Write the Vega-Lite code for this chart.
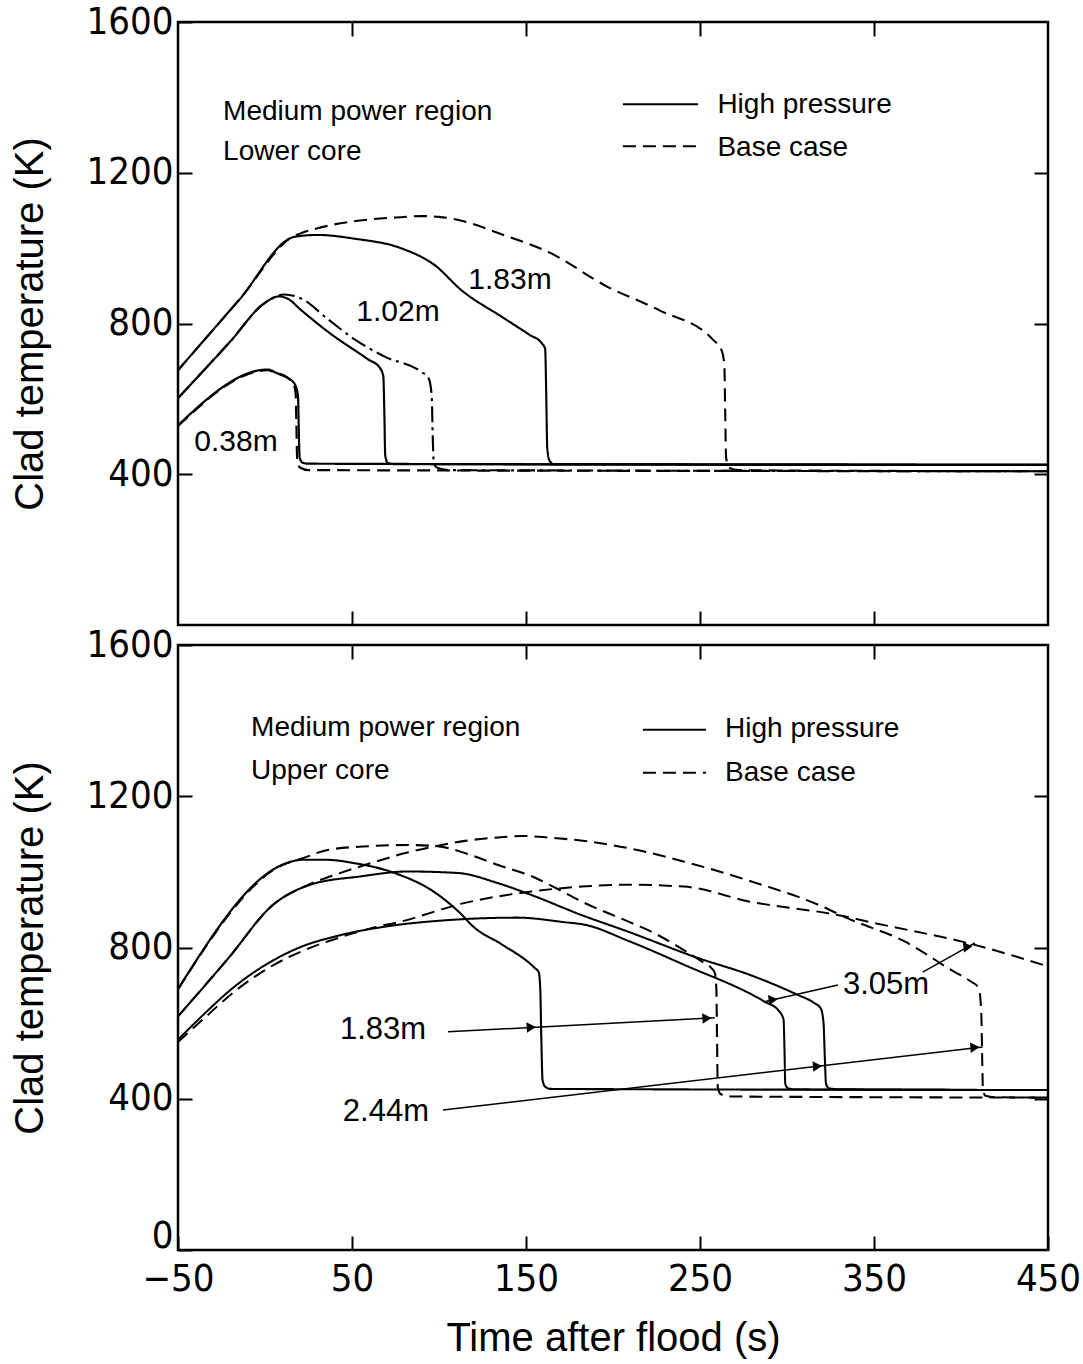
{
  "$schema": "https://vega.github.io/schema/vega-lite/v6.json",
  "background": "white",
  "padding": {"left": 8, "top": 1, "right": 0, "bottom": 2},
  "bounds": "flush",
  "config": {
    "view": {"stroke": "black", "strokeWidth": 2.5},
    "concat": {"spacing": 20},
    "font": "Liberation Sans",
    "axis": {"grid": false, "domain": false, "ticks": true, "tickColor": "black", "tickWidth": 2, "tickSize": -14, "minExtent": 0,
      "labelFont": "DejaVu Sans Condensed, Liberation Sans Narrow, Liberation Sans", "labelFontSize": 38, "labelColor": "black",
      "labelFlush": false, "labelBound": false, "labelOverlap": false, "labelPadding": 19, "format": "d",
      "titleFont": "Liberation Sans", "titleFontSize": 40, "titleFontWeight": "normal", "titleColor": "black"},
    "text": {"font": "Liberation Sans", "color": "black"}
  },
  "datasets": {
    "curves": [
      {"panel": "Lower core", "series": "1.83 m high pressure", "t": -50, "T": 676},
      {"panel": "Lower core", "series": "1.83 m high pressure", "t": -15, "T": 862},
      {"panel": "Lower core", "series": "1.83 m high pressure", "t": 17, "T": 1030},
      {"panel": "Lower core", "series": "1.83 m high pressure", "t": 30, "T": 1035},
      {"panel": "Lower core", "series": "1.83 m high pressure", "t": 51.5, "T": 1025},
      {"panel": "Lower core", "series": "1.83 m high pressure", "t": 78, "T": 1000},
      {"panel": "Lower core", "series": "1.83 m high pressure", "t": 97.5, "T": 955},
      {"panel": "Lower core", "series": "1.83 m high pressure", "t": 113, "T": 888},
      {"panel": "Lower core", "series": "1.83 m high pressure", "t": 136, "T": 818},
      {"panel": "Lower core", "series": "1.83 m high pressure", "t": 152, "T": 770},
      {"panel": "Lower core", "series": "1.83 m high pressure", "t": 159, "T": 748},
      {"panel": "Lower core", "series": "1.83 m high pressure", "t": 161, "T": 733},
      {"panel": "Lower core", "series": "1.83 m high pressure", "t": 161.6, "T": 620},
      {"panel": "Lower core", "series": "1.83 m high pressure", "t": 162.2, "T": 470},
      {"panel": "Lower core", "series": "1.83 m high pressure", "t": 163.5, "T": 436},
      {"panel": "Lower core", "series": "1.83 m high pressure", "t": 166, "T": 427},
      {"panel": "Lower core", "series": "1.83 m high pressure", "t": 250, "T": 426},
      {"panel": "Lower core", "series": "1.83 m high pressure", "t": 450, "T": 425},

      {"panel": "Lower core", "series": "1.83 m base case", "t": -50, "T": 676},
      {"panel": "Lower core", "series": "1.83 m base case", "t": -15, "T": 862},
      {"panel": "Lower core", "series": "1.83 m base case", "t": 17, "T": 1033},
      {"panel": "Lower core", "series": "1.83 m base case", "t": 21, "T": 1040},
      {"panel": "Lower core", "series": "1.83 m base case", "t": 40, "T": 1063},
      {"panel": "Lower core", "series": "1.83 m base case", "t": 60, "T": 1076},
      {"panel": "Lower core", "series": "1.83 m base case", "t": 78, "T": 1082},
      {"panel": "Lower core", "series": "1.83 m base case", "t": 90, "T": 1085},
      {"panel": "Lower core", "series": "1.83 m base case", "t": 100, "T": 1083},
      {"panel": "Lower core", "series": "1.83 m base case", "t": 116.7, "T": 1068},
      {"panel": "Lower core", "series": "1.83 m base case", "t": 134, "T": 1040},
      {"panel": "Lower core", "series": "1.83 m base case", "t": 164.5, "T": 986},
      {"panel": "Lower core", "series": "1.83 m base case", "t": 195.8, "T": 900},
      {"panel": "Lower core", "series": "1.83 m base case", "t": 226.7, "T": 835},
      {"panel": "Lower core", "series": "1.83 m base case", "t": 257.7, "T": 756},
      {"panel": "Lower core", "series": "1.83 m base case", "t": 262.5, "T": 728},
      {"panel": "Lower core", "series": "1.83 m base case", "t": 264, "T": 690},
      {"panel": "Lower core", "series": "1.83 m base case", "t": 264.5, "T": 560},
      {"panel": "Lower core", "series": "1.83 m base case", "t": 265, "T": 445},
      {"panel": "Lower core", "series": "1.83 m base case", "t": 266.5, "T": 418},
      {"panel": "Lower core", "series": "1.83 m base case", "t": 272, "T": 411},
      {"panel": "Lower core", "series": "1.83 m base case", "t": 350, "T": 409},
      {"panel": "Lower core", "series": "1.83 m base case", "t": 450, "T": 408},

      {"panel": "Lower core", "series": "1.02 m high pressure", "t": -50, "T": 602},
      {"panel": "Lower core", "series": "1.02 m high pressure", "t": -20, "T": 752},
      {"panel": "Lower core", "series": "1.02 m high pressure", "t": 0, "T": 855},
      {"panel": "Lower core", "series": "1.02 m high pressure", "t": 8, "T": 872},
      {"panel": "Lower core", "series": "1.02 m high pressure", "t": 13, "T": 866},
      {"panel": "Lower core", "series": "1.02 m high pressure", "t": 20.9, "T": 835},
      {"panel": "Lower core", "series": "1.02 m high pressure", "t": 36.2, "T": 778},
      {"panel": "Lower core", "series": "1.02 m high pressure", "t": 59.2, "T": 705},
      {"panel": "Lower core", "series": "1.02 m high pressure", "t": 65.9, "T": 683},
      {"panel": "Lower core", "series": "1.02 m high pressure", "t": 68, "T": 660},
      {"panel": "Lower core", "series": "1.02 m high pressure", "t": 68.6, "T": 560},
      {"panel": "Lower core", "series": "1.02 m high pressure", "t": 69.1, "T": 450},
      {"panel": "Lower core", "series": "1.02 m high pressure", "t": 70.5, "T": 430},
      {"panel": "Lower core", "series": "1.02 m high pressure", "t": 74, "T": 427},
      {"panel": "Lower core", "series": "1.02 m high pressure", "t": 450, "T": 425},

      {"panel": "Lower core", "series": "1.02 m base case", "t": -50, "T": 602},
      {"panel": "Lower core", "series": "1.02 m base case", "t": -20, "T": 752},
      {"panel": "Lower core", "series": "1.02 m base case", "t": 0, "T": 855},
      {"panel": "Lower core", "series": "1.02 m base case", "t": 11, "T": 877},
      {"panel": "Lower core", "series": "1.02 m base case", "t": 20.9, "T": 866},
      {"panel": "Lower core", "series": "1.02 m base case", "t": 36, "T": 812},
      {"panel": "Lower core", "series": "1.02 m base case", "t": 51.5, "T": 758},
      {"panel": "Lower core", "series": "1.02 m base case", "t": 68.8, "T": 712},
      {"panel": "Lower core", "series": "1.02 m base case", "t": 89.7, "T": 672},
      {"panel": "Lower core", "series": "1.02 m base case", "t": 94, "T": 655},
      {"panel": "Lower core", "series": "1.02 m base case", "t": 95.8, "T": 610},
      {"panel": "Lower core", "series": "1.02 m base case", "t": 96.4, "T": 500},
      {"panel": "Lower core", "series": "1.02 m base case", "t": 97, "T": 430},
      {"panel": "Lower core", "series": "1.02 m base case", "t": 99, "T": 417},
      {"panel": "Lower core", "series": "1.02 m base case", "t": 106, "T": 411},
      {"panel": "Lower core", "series": "1.02 m base case", "t": 450, "T": 408},

      {"panel": "Lower core", "series": "0.38 m high pressure", "t": -50, "T": 530},
      {"panel": "Lower core", "series": "0.38 m high pressure", "t": 1.7, "T": 678},
      {"panel": "Lower core", "series": "0.38 m high pressure", "t": 6, "T": 670},
      {"panel": "Lower core", "series": "0.38 m high pressure", "t": 9, "T": 664},
      {"panel": "Lower core", "series": "0.38 m high pressure", "t": 12, "T": 658},
      {"panel": "Lower core", "series": "0.38 m high pressure", "t": 15, "T": 650},
      {"panel": "Lower core", "series": "0.38 m high pressure", "t": 17.8, "T": 632},
      {"panel": "Lower core", "series": "0.38 m high pressure", "t": 19, "T": 605},
      {"panel": "Lower core", "series": "0.38 m high pressure", "t": 19.4, "T": 520},
      {"panel": "Lower core", "series": "0.38 m high pressure", "t": 19.9, "T": 445},
      {"panel": "Lower core", "series": "0.38 m high pressure", "t": 21.5, "T": 431},
      {"panel": "Lower core", "series": "0.38 m high pressure", "t": 25, "T": 428},
      {"panel": "Lower core", "series": "0.38 m high pressure", "t": 450, "T": 425},

      {"panel": "Lower core", "series": "0.38 m base case", "t": -50, "T": 528},
      {"panel": "Lower core", "series": "0.38 m base case", "t": 1.7, "T": 676},
      {"panel": "Lower core", "series": "0.38 m base case", "t": 5, "T": 671},
      {"panel": "Lower core", "series": "0.38 m base case", "t": 8, "T": 667},
      {"panel": "Lower core", "series": "0.38 m base case", "t": 11, "T": 662},
      {"panel": "Lower core", "series": "0.38 m base case", "t": 14, "T": 652},
      {"panel": "Lower core", "series": "0.38 m base case", "t": 16.5, "T": 638},
      {"panel": "Lower core", "series": "0.38 m base case", "t": 17.6, "T": 615},
      {"panel": "Lower core", "series": "0.38 m base case", "t": 18, "T": 540},
      {"panel": "Lower core", "series": "0.38 m base case", "t": 18.5, "T": 440},
      {"panel": "Lower core", "series": "0.38 m base case", "t": 20, "T": 418},
      {"panel": "Lower core", "series": "0.38 m base case", "t": 25, "T": 411},
      {"panel": "Lower core", "series": "0.38 m base case", "t": 450, "T": 408},

      {"panel": "Upper core", "series": "1.83 m high pressure", "t": -50, "T": 690},
      {"panel": "Upper core", "series": "1.83 m high pressure", "t": 10.2, "T": 1019},
      {"panel": "Upper core", "series": "1.83 m high pressure", "t": 21.6, "T": 1032},
      {"panel": "Upper core", "series": "1.83 m high pressure", "t": 35, "T": 1032},
      {"panel": "Upper core", "series": "1.83 m high pressure", "t": 51.5, "T": 1023},
      {"panel": "Upper core", "series": "1.83 m high pressure", "t": 74.5, "T": 997},
      {"panel": "Upper core", "series": "1.83 m high pressure", "t": 97.5, "T": 946},
      {"panel": "Upper core", "series": "1.83 m high pressure", "t": 111, "T": 896},
      {"panel": "Upper core", "series": "1.83 m high pressure", "t": 120.5, "T": 852},
      {"panel": "Upper core", "series": "1.83 m high pressure", "t": 135.8, "T": 809},
      {"panel": "Upper core", "series": "1.83 m high pressure", "t": 155, "T": 746},
      {"panel": "Upper core", "series": "1.83 m high pressure", "t": 157.3, "T": 735},
      {"panel": "Upper core", "series": "1.83 m high pressure", "t": 158.2, "T": 690},
      {"panel": "Upper core", "series": "1.83 m high pressure", "t": 158.8, "T": 560},
      {"panel": "Upper core", "series": "1.83 m high pressure", "t": 159.5, "T": 450},
      {"panel": "Upper core", "series": "1.83 m high pressure", "t": 161, "T": 432},
      {"panel": "Upper core", "series": "1.83 m high pressure", "t": 164, "T": 426},
      {"panel": "Upper core", "series": "1.83 m high pressure", "t": 450, "T": 423},

      {"panel": "Upper core", "series": "1.83 m base case", "t": -50, "T": 690},
      {"panel": "Upper core", "series": "1.83 m base case", "t": 10.2, "T": 1019},
      {"panel": "Upper core", "series": "1.83 m base case", "t": 21.6, "T": 1036},
      {"panel": "Upper core", "series": "1.83 m base case", "t": 36, "T": 1058},
      {"panel": "Upper core", "series": "1.83 m base case", "t": 60, "T": 1068},
      {"panel": "Upper core", "series": "1.83 m base case", "t": 82, "T": 1071},
      {"panel": "Upper core", "series": "1.83 m base case", "t": 99, "T": 1068},
      {"panel": "Upper core", "series": "1.83 m base case", "t": 116, "T": 1048},
      {"panel": "Upper core", "series": "1.83 m base case", "t": 134, "T": 1018},
      {"panel": "Upper core", "series": "1.83 m base case", "t": 155, "T": 985},
      {"panel": "Upper core", "series": "1.83 m base case", "t": 162.6, "T": 968},
      {"panel": "Upper core", "series": "1.83 m base case", "t": 185, "T": 915},
      {"panel": "Upper core", "series": "1.83 m base case", "t": 208.6, "T": 869},
      {"panel": "Upper core", "series": "1.83 m base case", "t": 222, "T": 842},
      {"panel": "Upper core", "series": "1.83 m base case", "t": 240, "T": 795},
      {"panel": "Upper core", "series": "1.83 m base case", "t": 251, "T": 763},
      {"panel": "Upper core", "series": "1.83 m base case", "t": 256, "T": 748},
      {"panel": "Upper core", "series": "1.83 m base case", "t": 258.5, "T": 733},
      {"panel": "Upper core", "series": "1.83 m base case", "t": 259.4, "T": 690},
      {"panel": "Upper core", "series": "1.83 m base case", "t": 259.8, "T": 560},
      {"panel": "Upper core", "series": "1.83 m base case", "t": 260.2, "T": 430},
      {"panel": "Upper core", "series": "1.83 m base case", "t": 262, "T": 412},
      {"panel": "Upper core", "series": "1.83 m base case", "t": 268, "T": 406},
      {"panel": "Upper core", "series": "1.83 m base case", "t": 450, "T": 403},

      {"panel": "Upper core", "series": "2.44 m high pressure", "t": -50, "T": 618},
      {"panel": "Upper core", "series": "2.44 m high pressure", "t": -21, "T": 772},
      {"panel": "Upper core", "series": "2.44 m high pressure", "t": 4.4, "T": 912},
      {"panel": "Upper core", "series": "2.44 m high pressure", "t": 26, "T": 966},
      {"panel": "Upper core", "series": "2.44 m high pressure", "t": 54.8, "T": 988},
      {"panel": "Upper core", "series": "2.44 m high pressure", "t": 82, "T": 1001},
      {"panel": "Upper core", "series": "2.44 m high pressure", "t": 110.9, "T": 997},
      {"panel": "Upper core", "series": "2.44 m high pressure", "t": 134, "T": 970},
      {"panel": "Upper core", "series": "2.44 m high pressure", "t": 153, "T": 939},
      {"panel": "Upper core", "series": "2.44 m high pressure", "t": 181.8, "T": 886},
      {"panel": "Upper core", "series": "2.44 m high pressure", "t": 208.6, "T": 842},
      {"panel": "Upper core", "series": "2.44 m high pressure", "t": 249, "T": 772},
      {"panel": "Upper core", "series": "2.44 m high pressure", "t": 279, "T": 727},
      {"panel": "Upper core", "series": "2.44 m high pressure", "t": 306, "T": 675},
      {"panel": "Upper core", "series": "2.44 m high pressure", "t": 315, "T": 655},
      {"panel": "Upper core", "series": "2.44 m high pressure", "t": 319.5, "T": 638},
      {"panel": "Upper core", "series": "2.44 m high pressure", "t": 321, "T": 600},
      {"panel": "Upper core", "series": "2.44 m high pressure", "t": 321.8, "T": 500},
      {"panel": "Upper core", "series": "2.44 m high pressure", "t": 322.4, "T": 440},
      {"panel": "Upper core", "series": "2.44 m high pressure", "t": 324, "T": 428},
      {"panel": "Upper core", "series": "2.44 m high pressure", "t": 330, "T": 425},
      {"panel": "Upper core", "series": "2.44 m high pressure", "t": 450, "T": 423},

      {"panel": "Upper core", "series": "2.44 m base case", "t": -50, "T": 618},
      {"panel": "Upper core", "series": "2.44 m base case", "t": -21, "T": 772},
      {"panel": "Upper core", "series": "2.44 m base case", "t": 4.4, "T": 912},
      {"panel": "Upper core", "series": "2.44 m base case", "t": 26, "T": 968},
      {"panel": "Upper core", "series": "2.44 m base case", "t": 42.7, "T": 996},
      {"panel": "Upper core", "series": "2.44 m base case", "t": 60, "T": 1022},
      {"panel": "Upper core", "series": "2.44 m base case", "t": 80, "T": 1049},
      {"panel": "Upper core", "series": "2.44 m base case", "t": 99.4, "T": 1069},
      {"panel": "Upper core", "series": "2.44 m base case", "t": 115, "T": 1082},
      {"panel": "Upper core", "series": "2.44 m base case", "t": 134, "T": 1091},
      {"panel": "Upper core", "series": "2.44 m base case", "t": 148, "T": 1095},
      {"panel": "Upper core", "series": "2.44 m base case", "t": 162.6, "T": 1091},
      {"panel": "Upper core", "series": "2.44 m base case", "t": 191, "T": 1077},
      {"panel": "Upper core", "series": "2.44 m base case", "t": 208.6, "T": 1063},
      {"panel": "Upper core", "series": "2.44 m base case", "t": 241, "T": 1027},
      {"panel": "Upper core", "series": "2.44 m base case", "t": 280, "T": 974},
      {"panel": "Upper core", "series": "2.44 m base case", "t": 318, "T": 913},
      {"panel": "Upper core", "series": "2.44 m base case", "t": 335, "T": 877},
      {"panel": "Upper core", "series": "2.44 m base case", "t": 367.6, "T": 816},
      {"panel": "Upper core", "series": "2.44 m base case", "t": 396, "T": 736},
      {"panel": "Upper core", "series": "2.44 m base case", "t": 405, "T": 712},
      {"panel": "Upper core", "series": "2.44 m base case", "t": 410.3, "T": 692},
      {"panel": "Upper core", "series": "2.44 m base case", "t": 411.7, "T": 620},
      {"panel": "Upper core", "series": "2.44 m base case", "t": 412.2, "T": 500},
      {"panel": "Upper core", "series": "2.44 m base case", "t": 412.6, "T": 425},
      {"panel": "Upper core", "series": "2.44 m base case", "t": 414, "T": 408},
      {"panel": "Upper core", "series": "2.44 m base case", "t": 420, "T": 404},
      {"panel": "Upper core", "series": "2.44 m base case", "t": 450, "T": 403},

      {"panel": "Upper core", "series": "3.05 m high pressure", "t": -50, "T": 556},
      {"panel": "Upper core", "series": "3.05 m high pressure", "t": -36.6, "T": 617},
      {"panel": "Upper core", "series": "3.05 m high pressure", "t": -17.4, "T": 697},
      {"panel": "Upper core", "series": "3.05 m high pressure", "t": 1.7, "T": 758},
      {"panel": "Upper core", "series": "3.05 m high pressure", "t": 20.9, "T": 802},
      {"panel": "Upper core", "series": "3.05 m high pressure", "t": 40, "T": 829},
      {"panel": "Upper core", "series": "3.05 m high pressure", "t": 68.8, "T": 855},
      {"panel": "Upper core", "series": "3.05 m high pressure", "t": 107, "T": 873},
      {"panel": "Upper core", "series": "3.05 m high pressure", "t": 145, "T": 879},
      {"panel": "Upper core", "series": "3.05 m high pressure", "t": 172, "T": 867},
      {"panel": "Upper core", "series": "3.05 m high pressure", "t": 184, "T": 860},
      {"panel": "Upper core", "series": "3.05 m high pressure", "t": 208.6, "T": 818},
      {"panel": "Upper core", "series": "3.05 m high pressure", "t": 241, "T": 754},
      {"panel": "Upper core", "series": "3.05 m high pressure", "t": 287, "T": 657},
      {"panel": "Upper core", "series": "3.05 m high pressure", "t": 295, "T": 634},
      {"panel": "Upper core", "series": "3.05 m high pressure", "t": 298, "T": 610},
      {"panel": "Upper core", "series": "3.05 m high pressure", "t": 298.6, "T": 520},
      {"panel": "Upper core", "series": "3.05 m high pressure", "t": 299, "T": 440},
      {"panel": "Upper core", "series": "3.05 m high pressure", "t": 300.5, "T": 428},
      {"panel": "Upper core", "series": "3.05 m high pressure", "t": 304, "T": 425},
      {"panel": "Upper core", "series": "3.05 m high pressure", "t": 450, "T": 423},

      {"panel": "Upper core", "series": "3.05 m base case", "t": -50, "T": 550},
      {"panel": "Upper core", "series": "3.05 m base case", "t": -36.6, "T": 606},
      {"panel": "Upper core", "series": "3.05 m base case", "t": -17.4, "T": 684},
      {"panel": "Upper core", "series": "3.05 m base case", "t": 1.7, "T": 745},
      {"panel": "Upper core", "series": "3.05 m base case", "t": 25.3, "T": 798},
      {"panel": "Upper core", "series": "3.05 m base case", "t": 40, "T": 822},
      {"panel": "Upper core", "series": "3.05 m base case", "t": 60, "T": 850},
      {"panel": "Upper core", "series": "3.05 m base case", "t": 77.6, "T": 868},
      {"panel": "Upper core", "series": "3.05 m base case", "t": 115, "T": 918},
      {"panel": "Upper core", "series": "3.05 m base case", "t": 153, "T": 948},
      {"panel": "Upper core", "series": "3.05 m base case", "t": 182, "T": 961},
      {"panel": "Upper core", "series": "3.05 m base case", "t": 208.6, "T": 966},
      {"panel": "Upper core", "series": "3.05 m base case", "t": 241, "T": 961},
      {"panel": "Upper core", "series": "3.05 m base case", "t": 279, "T": 921},
      {"panel": "Upper core", "series": "3.05 m base case", "t": 329, "T": 886},
      {"panel": "Upper core", "series": "3.05 m base case", "t": 350, "T": 865},
      {"panel": "Upper core", "series": "3.05 m base case", "t": 408, "T": 807},
      {"panel": "Upper core", "series": "3.05 m base case", "t": 450, "T": 750}
    ],
    "tags": [
      {"panel": "Lower core", "text": "1.83m", "t": 140.8, "T": 915},
      {"panel": "Lower core", "text": "1.02m", "t": 76.4, "T": 830},
      {"panel": "Lower core", "text": "0.38m", "t": -16.7, "T": 485},
      {"panel": "Upper core", "text": "1.83m", "t": 67.8, "T": 582},
      {"panel": "Upper core", "text": "2.44m", "t": 69.5, "T": 365},
      {"panel": "Upper core", "text": "3.05m", "t": 356.9, "T": 701}
    ],
    "notes": [
      {"panel": "Lower core", "text": "Medium power region", "t": -24.1, "T": 1361},
      {"panel": "Lower core", "text": "Lower core", "t": -24.1, "T": 1255},
      {"panel": "Lower core", "text": "High pressure", "t": 260, "T": 1380},
      {"panel": "Lower core", "text": "Base case", "t": 260, "T": 1266},
      {"panel": "Upper core", "text": "Medium power region", "t": -8, "T": 1381},
      {"panel": "Upper core", "text": "Upper core", "t": -8, "T": 1268},
      {"panel": "Upper core", "text": "High pressure", "t": 264.4, "T": 1378},
      {"panel": "Upper core", "text": "Base case", "t": 264.4, "T": 1262}
    ],
    "keys": [
      {"panel": "Lower core", "case": "High pressure", "t": 205.7, "t2": 248.9, "T": 1382},
      {"panel": "Lower core", "case": "Base case", "t": 205.7, "t2": 248.9, "T": 1270},
      {"panel": "Upper core", "case": "High pressure", "t": 217.2, "t2": 253.4, "T": 1376},
      {"panel": "Upper core", "case": "Base case", "t": 217.2, "t2": 253.4, "T": 1262}
    ],
    "arrows": [
      {"label": "1.83 m", "t": 105.2, "T": 577, "t2": 258.5, "T2": 614},
      {"label": "2.44 m", "t": 102.3, "T": 370, "t2": 412.5, "T2": 537},
      {"label": "3.05 m high pressure", "t": 329.3, "T": 701, "t2": 287.5, "T2": 657},
      {"label": "3.05 m base case", "t": 378, "T": 735, "t2": 408, "T2": 812}
    ],
    "heads": [
      {"arrow": "1.83 m", "t": 153, "T": 589},
      {"arrow": "1.83 m", "t": 254, "T": 613},
      {"arrow": "2.44 m", "t": 317.5, "T": 486},
      {"arrow": "2.44 m", "t": 408, "T": 536},
      {"arrow": "3.05 m high pressure", "t": 292, "T": 662},
      {"arrow": "3.05 m base case", "t": 404, "T": 802}
    ]
  },
  "vconcat": [
    {
      "width": 870,
      "height": 603,
      "resolve": {"axis": {"x": "independent", "y": "independent"}},
      "layer": [
        {
          "data": {"name": "curves"},
          "transform": [{"filter": "datum.panel === 'Lower core'"}],
          "mark": {"type": "line", "interpolate": "monotone", "color": "black"},
          "encoding": {
            "x": {"field": "t", "type": "quantitative", "scale": {"domain": [-50, 450], "nice": false, "zero": false},
              "axis": {"values": [50, 150, 250, 350], "labels": false, "title": null}},
            "y": {"field": "T", "type": "quantitative", "scale": {"domain": [0, 1600], "nice": false},
              "axis": {"values": [400, 800, 1200, 1600], "title": "Clad temperature (K)", "titlePadding": 36}},
            "detail": {"field": "series", "type": "nominal"},
            "strokeDash": {"field": "series", "type": "nominal", "legend": null,
              "scale": {"domain": ["0.38 m high pressure", "0.38 m base case", "1.02 m high pressure", "1.02 m base case", "1.83 m high pressure", "1.83 m base case", "2.44 m high pressure", "2.44 m base case", "3.05 m high pressure", "3.05 m base case"],
                "range": [[1, 0], [13, 7], [1, 0], [16, 5, 3, 5], [1, 0], [13, 7], [1, 0], [13, 7], [1, 0], [13, 7]]}},
            "strokeWidth": {"field": "series", "type": "nominal", "legend": null,
              "scale": {"domain": ["0.38 m high pressure", "0.38 m base case", "1.02 m high pressure", "1.02 m base case", "1.83 m high pressure", "1.83 m base case", "2.44 m high pressure", "2.44 m base case", "3.05 m high pressure", "3.05 m base case"],
                "range": [2.2, 2, 2.2, 1.6, 2.2, 2, 3.8, 2, 2.2, 2]}}
          }
        },
        {
          "data": {"name": "curves"},
          "transform": [{"filter": "datum.panel === 'Lower core'"}],
          "mark": {"type": "point", "opacity": 0},
          "encoding": {
            "x": {"field": "t", "type": "quantitative", "axis": {"orient": "top", "values": [50, 150, 250, 350], "labels": false, "title": null}},
            "y": {"field": "T", "type": "quantitative", "axis": {"orient": "right", "values": [400, 800, 1200], "labels": false, "title": null}}
          }
        },
        {
          "data": {"name": "tags"},
          "transform": [{"filter": "datum.panel === 'Lower core'"}],
          "mark": {"type": "text", "fontSize": 30, "align": "center", "baseline": "middle"},
          "encoding": {
            "x": {"field": "t", "type": "quantitative", "axis": null},
            "y": {"field": "T", "type": "quantitative", "axis": null},
            "text": {"field": "text"}
          }
        },
        {
          "data": {"name": "notes"},
          "transform": [{"filter": "datum.panel === 'Lower core'"}],
          "mark": {"type": "text", "fontSize": 28, "align": "left", "baseline": "middle"},
          "encoding": {
            "x": {"field": "t", "type": "quantitative", "axis": null},
            "y": {"field": "T", "type": "quantitative", "axis": null},
            "text": {"field": "text"}
          }
        },
        {
          "data": {"name": "keys"},
          "transform": [{"filter": "datum.panel === 'Lower core' && datum.case === 'High pressure'"}],
          "mark": {"type": "rule", "color": "black", "strokeWidth": 2},
          "encoding": {
            "x": {"field": "t", "type": "quantitative", "axis": null},
            "x2": {"field": "t2"},
            "y": {"field": "T", "type": "quantitative", "axis": null}
          }
        },
        {
          "data": {"name": "keys"},
          "transform": [{"filter": "datum.panel === 'Lower core' && datum.case === 'Base case'"}],
          "mark": {"type": "rule", "color": "black", "strokeWidth": 2, "strokeDash": [13, 7]},
          "encoding": {
            "x": {"field": "t", "type": "quantitative", "axis": null},
            "x2": {"field": "t2"},
            "y": {"field": "T", "type": "quantitative", "axis": null}
          }
        }
      ]
    },
    {
      "width": 870,
      "height": 605,
      "resolve": {"axis": {"x": "independent", "y": "independent"}},
      "layer": [
        {
          "data": {"name": "curves"},
          "transform": [{"filter": "datum.panel === 'Upper core'"}],
          "mark": {"type": "line", "interpolate": "monotone", "color": "black"},
          "encoding": {
            "x": {"field": "t", "type": "quantitative", "scale": {"domain": [-50, 450], "nice": false, "zero": false},
              "axis": {"values": [-50, 50, 150, 250, 350, 450], "title": "Time after flood (s)", "labelPadding": 24, "titlePadding": 20}},
            "y": {"field": "T", "type": "quantitative", "scale": {"domain": [0, 1600], "nice": false},
              "axis": {"values": [0, 400, 800, 1200, 1600], "title": "Clad temperature (K)", "titlePadding": 36,
                "labelOffset": {"condition": {"test": "datum.value === 0", "value": -14}, "value": 0}}},
            "detail": {"field": "series", "type": "nominal"},
            "strokeDash": {"field": "series", "type": "nominal", "legend": null,
              "scale": {"domain": ["0.38 m high pressure", "0.38 m base case", "1.02 m high pressure", "1.02 m base case", "1.83 m high pressure", "1.83 m base case", "2.44 m high pressure", "2.44 m base case", "3.05 m high pressure", "3.05 m base case"],
                "range": [[1, 0], [13, 7], [1, 0], [16, 5, 3, 5], [1, 0], [13, 7], [1, 0], [13, 7], [1, 0], [13, 7]]}},
            "strokeWidth": {"field": "series", "type": "nominal", "legend": null,
              "scale": {"domain": ["0.38 m high pressure", "0.38 m base case", "1.02 m high pressure", "1.02 m base case", "1.83 m high pressure", "1.83 m base case", "2.44 m high pressure", "2.44 m base case", "3.05 m high pressure", "3.05 m base case"],
                "range": [2.2, 2, 2.2, 1.6, 2.2, 2, 3.8, 2, 2.2, 2]}}
          }
        },
        {
          "data": {"name": "curves"},
          "transform": [{"filter": "datum.panel === 'Upper core'"}],
          "mark": {"type": "point", "opacity": 0},
          "encoding": {
            "x": {"field": "t", "type": "quantitative", "axis": {"orient": "top", "values": [50, 150, 250, 350], "labels": false, "title": null}},
            "y": {"field": "T", "type": "quantitative", "axis": {"orient": "right", "values": [400, 800, 1200], "labels": false, "title": null}}
          }
        },
        {
          "data": {"name": "arrows"},
          "mark": {"type": "rule", "color": "black", "strokeWidth": 1.5},
          "encoding": {
            "x": {"field": "t", "type": "quantitative", "axis": null},
            "y": {"field": "T", "type": "quantitative", "axis": null},
            "x2": {"field": "t2"},
            "y2": {"field": "T2"}
          }
        },
        {
          "data": {"name": "heads"},
          "mark": {"type": "point", "shape": "triangle-right", "filled": true, "color": "black", "size": 110, "opacity": 1},
          "encoding": {
            "x": {"field": "t", "type": "quantitative", "axis": null},
            "y": {"field": "T", "type": "quantitative", "axis": null},
            "angle": {"field": "arrow", "type": "nominal", "legend": null,
              "scale": {"domain": ["1.83 m", "2.44 m", "3.05 m high pressure", "3.05 m base case"], "range": [357, 353.4, 166.9, 330.9]}}
          }
        },
        {
          "data": {"name": "tags"},
          "transform": [{"filter": "datum.panel === 'Upper core'"}],
          "mark": {"type": "text", "fontSize": 31, "align": "center", "baseline": "middle"},
          "encoding": {
            "x": {"field": "t", "type": "quantitative", "axis": null},
            "y": {"field": "T", "type": "quantitative", "axis": null},
            "text": {"field": "text"}
          }
        },
        {
          "data": {"name": "notes"},
          "transform": [{"filter": "datum.panel === 'Upper core'"}],
          "mark": {"type": "text", "fontSize": 28, "align": "left", "baseline": "middle"},
          "encoding": {
            "x": {"field": "t", "type": "quantitative", "axis": null},
            "y": {"field": "T", "type": "quantitative", "axis": null},
            "text": {"field": "text"}
          }
        },
        {
          "data": {"name": "keys"},
          "transform": [{"filter": "datum.panel === 'Upper core' && datum.case === 'High pressure'"}],
          "mark": {"type": "rule", "color": "black", "strokeWidth": 2},
          "encoding": {
            "x": {"field": "t", "type": "quantitative", "axis": null},
            "x2": {"field": "t2"},
            "y": {"field": "T", "type": "quantitative", "axis": null}
          }
        },
        {
          "data": {"name": "keys"},
          "transform": [{"filter": "datum.panel === 'Upper core' && datum.case === 'Base case'"}],
          "mark": {"type": "rule", "color": "black", "strokeWidth": 2, "strokeDash": [13, 7]},
          "encoding": {
            "x": {"field": "t", "type": "quantitative", "axis": null},
            "x2": {"field": "t2"},
            "y": {"field": "T", "type": "quantitative", "axis": null}
          }
        }
      ]
    }
  ]
}
